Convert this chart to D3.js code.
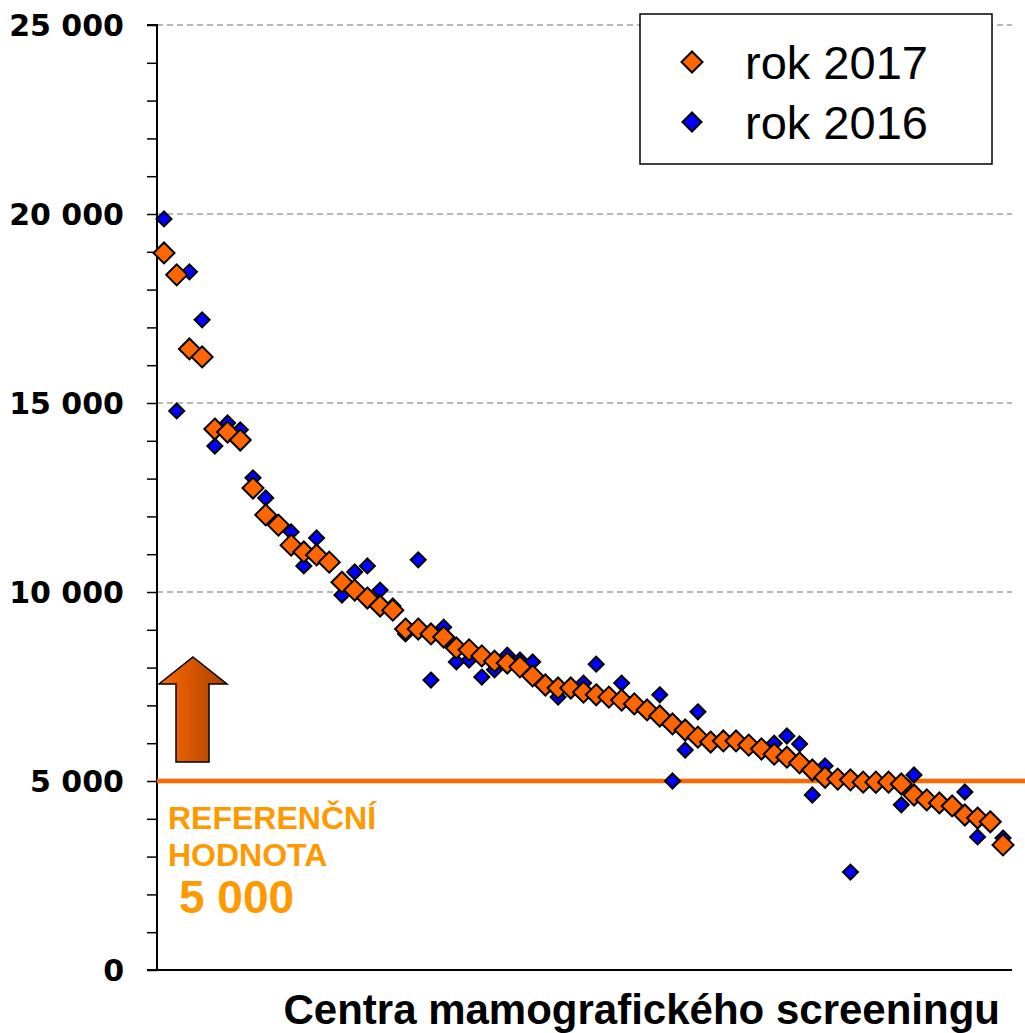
<!DOCTYPE html>
<html><head><meta charset="utf-8">
<script src="https://cdn.jsdelivr.net/npm/d3@7/dist/d3.min.js"></script>
<style>body{margin:0;background:#fff}svg{display:block}</style>
</head><body>
<script>
const centers = d3.range(1, 68).map(i => "C" + i);
const values2017 = [18970,18390,16430,16220,14310,14230,14020,12750,12040,11770,11240,11060,10980,10790,10260,10050,9840,9630,9520,9020,9020,8890,8810,8520,8470,8310,8170,8120,8020,7780,7540,7460,7460,7350,7280,7220,7140,7040,6880,6720,6510,6350,6160,6030,6060,6060,5950,5850,5710,5630,5480,5290,5100,5050,5030,4970,4970,4970,4920,4630,4500,4420,4340,4100,4020,3920,3310];
const values2016 = [19870,14790,18470,17200,13860,14470,14290,13020,12490,11770,11590,10690,11430,10790,9920,10530,10690,10050,9630,8890,10850,7670,9070,8150,8200,7750,7940,8330,8200,8150,7540,7220,7460,7590,8090,7220,7590,6980,6880,7280,5000,5820,6830,6030,6060,6060,5950,5770,6000,6190,5980,4630,5400,5100,2590,4970,4890,4970,4370,5160,4500,4420,4340,4710,3520,3920,3490];
const yTicks = [0,5000,10000,15000,20000,25000];
const referenceValue = 5000;
const seriesNames = ["rok 2017","rok 2016"];

const W = 1025, H = 1033;
const svg = d3.select("body").append("svg").attr("width", W).attr("height", H);
const y = d3.scaleLinear().domain([0,25000]).range([970,25]);
const x = d3.scalePoint().domain(centers).range([164,1003]);
const plotL = 157, plotR = 1012;

const defs = svg.append("defs");
const grad = defs.append("linearGradient").attr("id","ag").attr("x1","0").attr("x2","1").attr("y1","0").attr("y2","0");
grad.append("stop").attr("offset","0%").attr("stop-color","#ff6a00");
grad.append("stop").attr("offset","100%").attr("stop-color","#a84000");

// gridlines
svg.append("g").selectAll("line").data(yTicks.filter(d => d > 0 && d !== referenceValue)).join("line")
  .attr("x1", plotL).attr("x2", plotR).attr("y1", d => y(d)).attr("y2", d => y(d))
  .attr("stroke","#a0a0a0").attr("stroke-width",1.5).attr("stroke-dasharray","6,4");

// y axis
const yAxis = d3.axisLeft(y).tickValues(d3.range(0,25001,1000)).tickSize(10).tickFormat("");
const ga = svg.append("g").attr("transform",`translate(${plotL},0)`).call(yAxis);
ga.select(".domain").attr("stroke","#000").attr("stroke-width",2).attr("d",`M-10,${y(25000)}H0V${y(0)}H-10`);
ga.selectAll(".tick line").attr("stroke","#000").attr("stroke-width",1.5);
svg.append("g").selectAll("text").data(yTicks).join("text")
  .attr("x",124).attr("y", d => y(d) + 10.5).attr("text-anchor","end")
  .attr("font-family","DejaVu Sans").attr("font-weight","bold").attr("font-size",30)
  .text(d => d === 0 ? "0" : d3.format(",")(d).replace(/,/g," "));

// x axis line
svg.append("line").attr("x1",plotL).attr("x2",plotR).attr("y1",y(0)).attr("y2",y(0)).attr("stroke","#000").attr("stroke-width",2);

// reference line
svg.append("line").attr("x1",plotL).attr("x2",W).attr("y1",y(referenceValue)).attr("y2",y(referenceValue))
  .attr("stroke","#ff6600").attr("stroke-width",4.5);

// arrow
const ax = 193, tipY = 657;
svg.append("path").attr("d",`M${ax},${tipY} L${ax+34},${tipY+27} L${ax+16},${tipY+27} L${ax+16},762 L${ax-17},762 L${ax-17},${tipY+27} L${ax-34},${tipY+27} Z`)
  .attr("fill","url(#ag)").attr("stroke","#000").attr("stroke-width",1.5).attr("stroke-linejoin","miter");

// reference text
const rt = svg.append("g").attr("fill","#ff9900").attr("font-family","Liberation Sans, Arial").attr("font-weight","bold");
rt.append("text").attr("x",168).attr("y",829).attr("font-size",32).text("REFERENČNÍ");
rt.append("text").attr("x",168).attr("y",866).attr("font-size",32).text("HODNOTA");
rt.append("text").attr("x",179).attr("y",913).attr("font-size",46).text("5 000");

function diamond(r){ return `M0,${-r}L${r},0L0,${r}L${-r},0Z`; }

// 2016 (blue)
svg.append("g").selectAll("path").data(values2016).join("path")
  .attr("transform",(d,i)=>`translate(${x(centers[i])},${y(d)})`)
  .attr("d",diamond(7.5)).attr("fill","#0000ff").attr("stroke","#000").attr("stroke-width",2);
// 2017 (orange)
svg.append("g").selectAll("path").data(values2017).join("path")
  .attr("transform",(d,i)=>`translate(${x(centers[i])},${y(d)})`)
  .attr("d",diamond(10.5)).attr("fill","#ff6600").attr("stroke","#000").attr("stroke-width",2);

// legend
const lg = svg.append("g");
lg.append("rect").attr("x",640).attr("y",14).attr("width",352).attr("height",150).attr("fill","#fff").attr("stroke","#000").attr("stroke-width",1.5);
lg.append("path").attr("transform","translate(692,62)").attr("d",diamond(10.5)).attr("fill","#ff6600").attr("stroke","#000").attr("stroke-width",2);
lg.append("path").attr("transform","translate(692,122)").attr("d",diamond(9.5)).attr("fill","#0000ff").attr("stroke","#000").attr("stroke-width",2);
lg.selectAll("text").data(seriesNames).join("text")
  .attr("x",745).attr("y",(d,i)=>79 + i*60).attr("font-family","Liberation Sans, Arial").attr("font-size",47).text(d=>d);

// x label
svg.append("text").attr("x",1000).attr("y",1024).attr("text-anchor","end")
  .attr("font-family","Liberation Sans, Arial").attr("font-weight","bold").attr("font-size",42)
  .text("Centra mamografického screeningu");
</script>
</body></html>
